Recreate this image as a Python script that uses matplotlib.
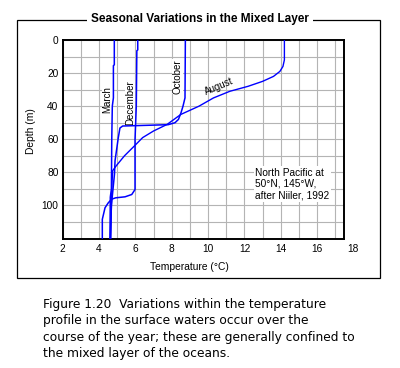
import matplotlib
matplotlib.use('Agg')
import matplotlib.pyplot as plt
from matplotlib.patches import Rectangle
import numpy as np

# Data (temperature in deg C, depth in m)
march_temp = [4.84, 4.84, 4.79, 4.79, 4.73, 4.70, 4.68, 4.62, 4.60]
march_depth = [0, 15, 15.5, 35, 40, 60, 90, 95, 120]

december_temp = [6.13, 6.13, 6.08, 6.05, 5.98, 5.98, 5.80, 5.43, 4.92, 4.70, 4.51, 4.33, 4.18, 4.18]
december_depth = [0, 6, 6.5, 40, 60, 90.4, 93.4, 94.8, 95.4, 96.2, 98.4, 101.4, 108.4, 120]

october_temp = [8.75, 8.73, 8.62, 8.51, 8.37, 8.18, 7.80, 5.30, 5.15, 5.06, 4.97, 4.88, 4.85, 4.68, 4.62]
october_depth = [0, 35, 40, 44, 48, 50, 51.2, 52, 53.2, 59, 66, 73, 81, 100, 120]

august_temp = [14.2, 14.2, 14.12, 13.95, 13.6, 13.0, 12.2, 11.2, 10.3, 9.5, 8.5, 7.75, 7.0, 6.4, 5.95, 5.4, 4.95, 4.75, 4.72, 4.68, 4.65]
august_depth = [0, 12, 16, 19, 22, 25, 28, 31, 35, 40, 45, 51, 55, 59, 64, 70, 76, 79, 85, 100, 120]

xtick_vals = [2, 4, 6, 8, 10, 12, 14, 16]
ytick_vals = [0, 20, 40, 60, 80, 100]

caption = ("Figure 1.20  Variations within the temperature\n"
           "profile in the surface waters occur over the\n"
           "course of the year; these are generally confined to\n"
           "the mixed layer of the oceans.")

sans = ['Liberation Sans', 'DejaVu Sans']
W, H = 400, 368

def px(x, y):
    return x / W, 1 - y / H

fig = plt.figure(figsize=(4, 3.68), dpi=100)
fig.patch.set_facecolor('white')

# outer frame, the title breaks its top edge
fig.patches.append(Rectangle(px(17, 278), 363 / W, 258 / H, transform=fig.transFigure,
                             fill=False, edgecolor='black', linewidth=0.9))
fig.text(*px(200, 19), 'Seasonal Variations in the Mixed Layer', ha='center', va='center',
         fontsize=8.5, fontweight='bold', family=sans,
         bbox=dict(facecolor='white', edgecolor='none', pad=3))

ax = fig.add_axes([62.7 / W, 1 - 238.5 / H, (344 - 62.7) / W, (238.5 - 40) / H])
ax.set_xlim(2, 17.48)
ax.set_ylim(120, 0)

ax.set_xticks(np.arange(2, 18, 1), minor=True)
ax.set_yticks(np.arange(0, 121, 10), minor=True)
ax.set_xticks(xtick_vals)
ax.set_yticks(ytick_vals)
ax.grid(True, which='both', color='#b4b4b4', linewidth=0.8, zorder=0.5)
ax.set_axisbelow(True)
ax.tick_params(which='both', length=0)
ax.tick_params(axis='y', pad=3)
ax.tick_params(axis='x', pad=4)
for lab in ax.get_xticklabels() + ax.get_yticklabels():
    lab.set_family(sans)
    lab.set_fontsize(7.3)
# the last label sits past the right edge of the frame
ax.text(18, -0.028, '18', transform=ax.get_xaxis_transform(), ha='center', va='top',
        fontsize=7.3, family=sans, clip_on=False)
for s in ax.spines.values():
    s.set_linewidth(1.4)

ax.plot(march_temp, march_depth, color='#0000ff', linewidth=1.1, zorder=3)
ax.plot(december_temp, december_depth, color='#0000ff', linewidth=1.1, zorder=3)
ax.plot(october_temp, october_depth, color='#0000ff', linewidth=1.1, zorder=3)
ax.plot(august_temp, august_depth, color='#0000ff', linewidth=1.0, zorder=3)

white = dict(facecolor='white', edgecolor='none', pad=0.3)
ax.text(4.45, 36, 'March', rotation=90, ha='center', va='center', fontsize=7, family=sans,
        bbox=white, zorder=1.5)
ax.text(5.7, 38, 'December', rotation=90, ha='center', va='center', fontsize=7, family=sans,
        bbox=white, zorder=1.5)
ax.text(8.3, 22, 'October', rotation=90, ha='center', va='center', fontsize=7, family=sans,
        bbox=white, zorder=1.5)
ax.text(10.6, 28.3, 'August', rotation=23, ha='center', va='center', fontsize=7, family=sans,
        zorder=1.5)

ax.text(12.6, 87, 'North Pacific at\n50°N, 145°W,\nafter Niiler, 1992', ha='left', va='center',
        fontsize=7.3, family=sans, linespacing=1.15,
        bbox=dict(facecolor='white', edgecolor='none', pad=1), zorder=1.5)

fig.text(*px(31, 131), 'Depth (m)', rotation=90, ha='center', va='center', fontsize=7.4, family=sans)
fig.text(*px(189, 267), 'Temperature (°C)', ha='center', va='center', fontsize=7.4, family=sans)

fig.text(*px(43, 298), caption, ha='left', va='top', fontsize=8.8, family='DejaVu Sans', linespacing=1.33)

fig.savefig('out.png', dpi=100, facecolor='white')
